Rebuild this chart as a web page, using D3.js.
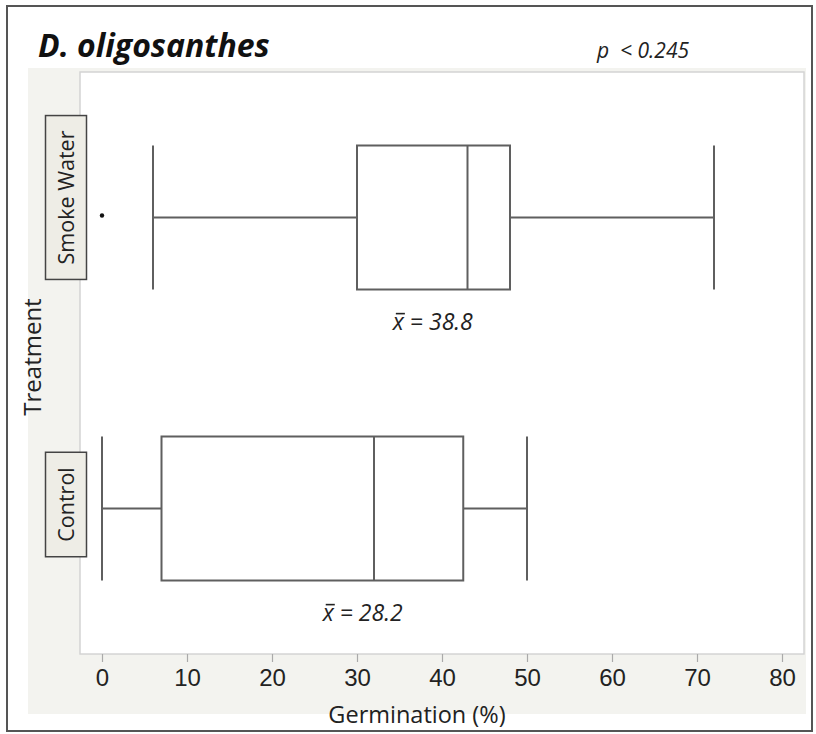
<!DOCTYPE html>
<html><head><meta charset="utf-8">
<script src="https://cdn.jsdelivr.net/npm/d3@7"></script>
<style>body{margin:0;background:#fff;} svg{display:block;}</style>
</head><body>
<script>
// ---- data ----
const categories = ["Smoke Water", "Control"];
const whiskerLow = [6, 0];
const q1 = [30, 7];
const median = [43, 32];
const q3 = [48, 42.5];
const whiskerHigh = [72, 50];
const outliers = [[0], []];
const means = [38.8, 28.2];
const xTicks = [0, 10, 20, 30, 40, 50, 60, 70, 80];
const title = "D. oligosanthes";
const pLabel = "p  < 0.245";
const xTitle = "Germination (%)";
const yTitle = "Treatment";

// ---- layout ----
const W = 816, H = 734;
const plot = {left: 80, top: 72, right: 804, bottom: 654};
const labelShift = [-20, -4];
const meanShift = [1, 21];
const serif = "'Open Sans', sans-serif";
const sans = "'Liberation Sans', Arial, sans-serif";
const lineCol = "#5f5f5f";

const svg = d3.select("body").append("svg").attr("width", W).attr("height", H);

// outer frame
svg.append("rect").attr("x", 7).attr("y", 6).attr("width", 805).attr("height", 725)
  .attr("fill", "#fff").attr("stroke", "#555").attr("stroke-width", 2);
// gray panel
svg.append("rect").attr("x", 28).attr("y", 68).attr("width", 778).attr("height", 646)
  .attr("fill", "#f3f3ef");

const x = d3.scaleLinear().range([plot.left, plot.right]);
// calibrate: 0 -> 102, 80 -> 782
x.domain([(plot.left - 102) / 8.5, (plot.right - 102) / 8.5]);
const y = d3.scaleBand().domain(categories).range([plot.top, plot.bottom]).padding(0);
const boxH = 144;

// plot area
svg.append("rect").attr("x", plot.left).attr("y", plot.top)
  .attr("width", plot.right - plot.left).attr("height", plot.bottom - plot.top)
  .attr("fill", "#fff").attr("stroke", "#d4d4d4").attr("stroke-width", 1.5);

// x axis
const xAxis = d3.axisBottom(x).tickValues(xTicks).tickSize(8).tickPadding(6);
const gx = svg.append("g").attr("transform", `translate(0,${plot.bottom})`).call(xAxis);
gx.select(".domain").remove();
gx.selectAll(".tick line").attr("stroke", "#aaa").attr("stroke-width", 1.2);
gx.selectAll(".tick text").attr("font-family", sans).attr("font-size", 24)
  .attr("fill", "#222").attr("dy", "0.75em");

svg.append("text").attr("x", 417).attr("y", 723).attr("text-anchor", "middle")
  .attr("font-family", serif).attr("font-size", 23.5).attr("fill", "#222").text(xTitle);

svg.append("text").attr("transform", "translate(41,357) rotate(-90)")
  .attr("text-anchor", "middle").attr("font-family", serif).attr("font-size", 24)
  .attr("fill", "#222").text(yTitle);

// boxes
categories.forEach((c, i) => {
  const cy = y(c) + y.bandwidth() / 2;
  const g = svg.append("g").attr("stroke", lineCol).attr("stroke-width", 2).attr("fill", "none");
  g.append("line").attr("x1", x(whiskerLow[i])).attr("x2", x(q1[i])).attr("y1", cy).attr("y2", cy);
  g.append("line").attr("x1", x(q3[i])).attr("x2", x(whiskerHigh[i])).attr("y1", cy).attr("y2", cy);
  g.append("line").attr("x1", x(whiskerLow[i])).attr("x2", x(whiskerLow[i])).attr("y1", cy - boxH/2).attr("y2", cy + boxH/2);
  g.append("line").attr("x1", x(whiskerHigh[i])).attr("x2", x(whiskerHigh[i])).attr("y1", cy - boxH/2).attr("y2", cy + boxH/2);
  g.append("rect").attr("x", x(q1[i])).attr("y", cy - boxH/2).attr("width", x(q3[i]) - x(q1[i])).attr("height", boxH);
  g.append("line").attr("x1", x(median[i])).attr("x2", x(median[i])).attr("y1", cy - boxH/2).attr("y2", cy + boxH/2);
  outliers[i].forEach(o => {
    svg.append("circle").attr("cx", x(o)).attr("cy", cy - 2).attr("r", 2.2).attr("fill", "#111");
  });
  // mean label
  const fs = 23;
  const by = cy + boxH/2 + 40;
  const t = svg.append("text").attr("x", x(means[i]) + meanShift[i]).attr("y", by)
    .attr("text-anchor", "middle").attr("font-family", serif).attr("font-style", "italic")
    .attr("font-size", fs).attr("fill", "#222")
    .text("x = " + means[i].toFixed(1));
  const ext = t.node().getExtentOfChar(0);
  svg.append("line").attr("x1", ext.x + 3).attr("x2", ext.x + ext.width + 1)
    .attr("y1", by - fs * 0.56 - 3).attr("y2", by - fs * 0.56 - 3)
    .attr("stroke", "#222").attr("stroke-width", 1.6);

  // category label
  const ly = cy + labelShift[i];
  const lg = svg.append("g").attr("transform", `translate(66,${ly}) rotate(-90)`);
  const lt = lg.append("text").attr("text-anchor", "middle").attr("dy", "0.36em")
    .attr("font-family", serif).attr("font-size", 21.5).attr("fill", "#222").text(c);
  const len = lt.node().getComputedTextLength();
  lg.insert("rect", "text").attr("x", -len/2 - 15).attr("y", -20.5).attr("width", len + 30).attr("height", 41)
    .attr("fill", "#eeede6").attr("stroke", "#444").attr("stroke-width", 1.5);
});

// titles
svg.append("text").attr("x", 38).attr("y", 57).attr("font-family", serif)
  .attr("font-weight", "bold").attr("font-style", "italic").attr("font-size", 32)
  .attr("fill", "#111").text(title);
svg.append("text").attr("x", 597).attr("y", 58).attr("font-family", serif)
  .attr("font-style", "italic").attr("font-size", 21).attr("fill", "#222")
  .attr("xml:space", "preserve").style("white-space", "pre").text(pLabel);
</script>
</body></html>
